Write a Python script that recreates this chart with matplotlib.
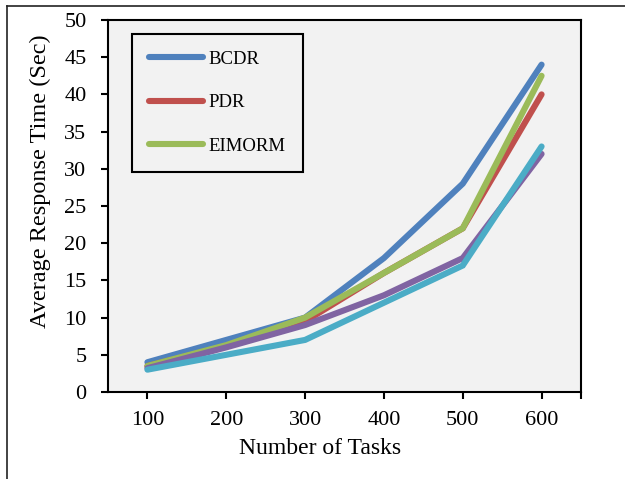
import matplotlib
matplotlib.use("Agg")
import matplotlib.pyplot as plt
from matplotlib.lines import Line2D
from matplotlib.ticker import MultipleLocator, FixedLocator

plt.rcParams['font.family'] = ['Liberation Serif', 'DejaVu Serif']

tasks = [100, 200, 300, 400, 500, 600]
bcdr = [4, 7, 10, 18, 28, 44]
pdr = [3.5, 6.2, 9.5, 16, 22, 40]
eimorm = [3.5, 6.3, 10, 16, 22, 42.5]
series4 = [3.2, 6, 9, 13, 18, 32]
series5 = [3, 5, 7, 12, 17, 33]

W, H = 625, 479
fig = plt.figure(figsize=(W / 100, H / 100), dpi=100)
ax = fig.add_axes([108 / W, 1 - 392 / H, (581 - 108) / W, (392 - 20) / H])
ax.set_facecolor('#f2f2f2')

lw = 4.4
kw = dict(lw=lw, solid_capstyle='round', solid_joinstyle='miter')
ax.plot(tasks, bcdr, color='#4f81bd', label='BCDR', **kw)
ax.plot(tasks, pdr, color='#c0504d', label='PDR', **kw)
ax.plot(tasks, eimorm, color='#9bbb59', label='EIMORM', **kw)
ax.plot(tasks, series4, color='#8064a2', **kw)
ax.plot(tasks, series5, color='#4bacc6', **kw)

ax.set_xlim(50, 650)
ax.set_ylim(0, 50)
ax.set_xticks(tasks)
ax.xaxis.set_minor_locator(FixedLocator([650]))
ax.yaxis.set_major_locator(MultipleLocator(5))
ax.tick_params(axis='both', which='both', direction='out', length=5, width=1.5, colors='black', labelsize=16)
ax.tick_params(axis='x', pad=8.5)
ax.tick_params(axis='y', pad=10.5)
for s in ax.spines.values():
    s.set_linewidth(1.5)
    s.set_color('black')

fig.text(320 / W, 1 - 454 / H, 'Number of Tasks', ha='center', va='baseline', fontsize=17)
fig.text(40 / W, 1 - 181 / H, 'Average Response Time (Sec)', ha='center', va='center', rotation=90, fontsize=17.5)

leg = ax.legend(loc='upper left', bbox_to_anchor=((132 - 108) / 473, 1 - (34 - 20) / 372),
                borderaxespad=0, frameon=True, fancybox=False, fontsize=13.5,
                handlelength=2.9, handletextpad=0.3, labelspacing=1.4, borderpad=0.9)
leg.get_frame().set_edgecolor('black')
leg.get_frame().set_linewidth(1.5)
leg.get_frame().set_facecolor('#f2f2f2')
leg.get_frame().set_alpha(1)

fig.add_artist(Line2D([7 / W, 1], [1 - 6 / H, 1 - 6 / H], transform=fig.transFigure, color='#222222', lw=1.2))
fig.add_artist(Line2D([7 / W, 7 / W], [0, 1 - 6 / H], transform=fig.transFigure, color='#222222', lw=1.2))

fig.savefig('out.png', dpi=100)
